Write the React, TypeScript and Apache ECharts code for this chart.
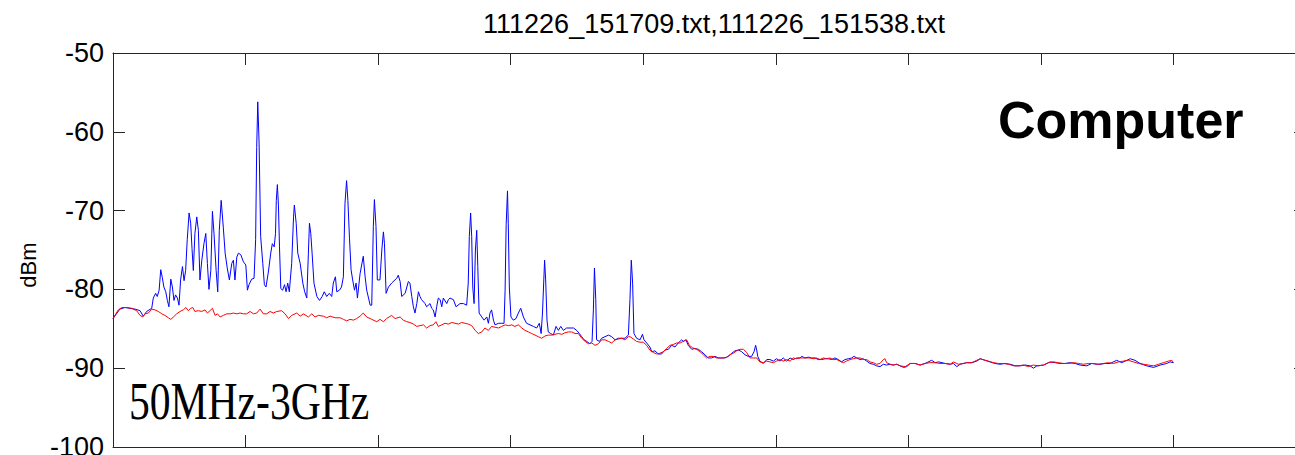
import React, { useEffect, useRef } from "react";
import * as echarts from "echarts";

const TITLE = "111226_151709.txt,111226_151538.txt";
const Y_LABEL = "dBm";
const LABEL_DEVICE = "Computer";
const LABEL_BAND = "50MHz-3GHz";

// x: sweep sample index (0..400), y: dBm
const blueTrace: [number, number][] = [
  [0,-83.7],[2.6,-82.5],[4.5,-82.3],[6.4,-82.4],[8.3,-82.5],[10.2,-82.7],[11.4,-83.4],[12.7,-82.8],[14.6,-82.4],[15.2,-81.1],
  [16.1,-80.5],[16.7,-80.9],[17.4,-80.1],[18.0,-77.5],[18.6,-78.5],[19.2,-79.7],[19.9,-80.3],[20.5,-81.4],[21.1,-82.2],[21.8,-78.7],
  [22.4,-79.7],[23.0,-81.4],[23.6,-80.7],[24.3,-81.1],[24.9,-82.0],[25.5,-78.8],[26.2,-77.1],[26.8,-78.9],[27.4,-77.6],[28.0,-73.7],
  [28.7,-70.3],[29.3,-71.6],[29.8,-74.8],[30.3,-77.6],[30.9,-72.9],[31.6,-70.8],[32.2,-72.5],[32.8,-78.8],[33.5,-76.3],[34.3,-74.2],
  [35.0,-72.9],[35.6,-76.7],[36.2,-80.0],[36.9,-77.6],[37.5,-70.1],[38.1,-72.9],[38.9,-77.6],[39.5,-80.3],[40.1,-72.5],[40.8,-68.7],
  [41.6,-72.1],[42.3,-75.4],[43.1,-77.3],[43.9,-78.8],[44.8,-76.7],[45.4,-76.3],[46.0,-78.8],[46.7,-75.9],[47.3,-75.4],[48.2,-75.6],
  [49.2,-76.5],[50.1,-76.9],[50.7,-80.1],[51.3,-79.4],[52.3,-78.7],[53.2,-78.6],[53.8,-73.7],[54.2,-62.0],[54.6,-56.2],[55.1,-61.3],
  [55.7,-73.3],[56.5,-76.7],[57.1,-79.4],[57.7,-79.7],[58.6,-77.8],[59.5,-75.4],[60.1,-74.2],[60.8,-74.6],[61.3,-72.9],[61.6,-68.7],
  [62.0,-66.7],[62.4,-69.3],[62.8,-74.6],[63.3,-79.9],[64.0,-80.1],[64.7,-79.4],[65.3,-80.3],[65.9,-79.2],[66.5,-80.3],[67.4,-76.7],
  [68.1,-70.8],[68.4,-69.3],[69.1,-71.6],[69.7,-75.4],[70.6,-76.7],[71.6,-79.2],[72.3,-80.3],[73.1,-81.1],[73.7,-75.4],[74.1,-71.6],
  [74.6,-72.9],[75.1,-75.4],[75.8,-79.2],[76.9,-80.9],[77.9,-81.4],[78.9,-80.9],[79.7,-80.3],[80.6,-80.9],[81.6,-80.5],[82.5,-80.9],
  [83.1,-79.2],[83.9,-78.4],[84.4,-80.3],[85.4,-80.1],[86.2,-79.7],[86.9,-78.4],[87.5,-69.1],[88.1,-66.2],[88.6,-68.7],[89.2,-73.5],
  [89.8,-77.5],[90.4,-78.8],[91.1,-80.1],[91.7,-79.2],[92.2,-81.1],[93.2,-78.0],[94.4,-75.8],[95.1,-78.4],[95.7,-80.1],[97.0,-82.0],
  [97.6,-82.0],[98.2,-72.0],[98.6,-68.6],[99.2,-72.0],[99.7,-78.8],[100.7,-78.8],[101.4,-75.0],[102.0,-72.7],[102.4,-74.2],[103.0,-80.5],
  [103.9,-79.7],[105.1,-79.2],[107.0,-78.6],[107.6,-78.2],[108.3,-79.0],[108.9,-80.9],[110.2,-80.5],[111.4,-79.0],[112.0,-79.2],[112.7,-80.9],
  [113.3,-82.2],[113.9,-83.0],[114.6,-81.8],[115.2,-80.3],[115.8,-80.9],[116.4,-81.3],[117.7,-81.8],[118.3,-82.2],[119.6,-81.8],[120.2,-82.4],
  [120.8,-82.6],[121.5,-83.5],[122.1,-82.2],[122.7,-81.1],[123.4,-81.3],[124.0,-82.2],[124.6,-81.1],[125.9,-81.8],[126.5,-81.3],[127.1,-81.1],
  [128.4,-81.3],[129.4,-82.2],[130.9,-81.8],[132.2,-81.8],[133.4,-82.0],[134.0,-79.2],[134.4,-73.3],[134.9,-70.3],[135.3,-73.3],[135.7,-79.7],
  [136.2,-81.8],[136.7,-75.0],[137.2,-72.5],[137.6,-77.1],[138.1,-83.0],[139.1,-83.5],[140.0,-83.9],[141.0,-83.5],[141.6,-84.3],[142.2,-83.0],
  [142.8,-82.6],[143.5,-83.9],[144.1,-84.5],[145.4,-84.3],[146.6,-84.3],[147.5,-84.3],[147.9,-80.1],[148.3,-71.8],[148.8,-67.5],[149.1,-71.6],
  [149.5,-79.7],[150.1,-83.5],[151.0,-83.9],[152.0,-83.7],[152.9,-83.0],[153.8,-82.4],[154.8,-83.5],[156.0,-84.3],[157.3,-84.5],[158.6,-84.7],
  [159.8,-84.9],[160.8,-84.3],[161.5,-85.6],[162.0,-83.0],[162.5,-78.8],[162.8,-76.3],[163.2,-78.8],[163.7,-83.9],[164.2,-85.4],[165.1,-85.6],
  [166.1,-85.8],[167.1,-84.7],[168.0,-85.2],[168.9,-84.7],[169.9,-85.2],[171.1,-84.9],[172.4,-84.9],[173.7,-84.9],[174.9,-85.2],[175.9,-85.6],
  [176.8,-86.0],[177.7,-86.4],[178.7,-86.6],[179.9,-86.9],[180.7,-86.6],[181.2,-82.6],[181.6,-77.3],[182.1,-81.3],[182.4,-86.4],[183.5,-86.6],
  [184.3,-86.2],[185.6,-86.0],[186.9,-85.8],[188.1,-86.0],[189.4,-86.4],[190.6,-86.2],[191.9,-86.2],[193.1,-86.2],[194.4,-85.8],[195.0,-81.3],
  [195.5,-76.3],[196.0,-79.2],[196.5,-85.6],[197.5,-86.2],[198.8,-86.4],[199.7,-85.7],[200.3,-86.4],[201.3,-86.8],[202.5,-87.3],[203.2,-87.9],
  [204.4,-87.8],[205.7,-88.2],[206.9,-88.2],[208.2,-87.7],[209.5,-87.6],[210.7,-87.1],[212.0,-87.3],[213.2,-86.8],[214.5,-86.4],[215.1,-86.6],
  [216.1,-86.4],[217.0,-87.1],[218.3,-87.6],[219.5,-87.5],[220.8,-87.6],[222.0,-87.9],[223.3,-88.3],[224.5,-88.7],[225.8,-88.7],[227.1,-88.5],
  [228.3,-88.7],[229.6,-88.7],[230.8,-88.7],[232.1,-88.5],[233.4,-88.1],[234.6,-87.8],[235.9,-87.7],[237.1,-87.9],[238.4,-88.3],[239.6,-88.5],
  [240.9,-88.5],[241.8,-87.9],[242.4,-87.1],[242.8,-87.7],[243.2,-88.5],[244.0,-89.1],[245.3,-89.4],[246.6,-88.9],[247.8,-88.9],[249.1,-89.1],
  [250.3,-88.8],[251.6,-89.1],[252.8,-88.7],[254.1,-89.1],[255.4,-88.7],[256.6,-88.9],[257.9,-88.7],[259.1,-88.7],[259.8,-88.5],[261.0,-88.7],
  [262.3,-88.6],[263.5,-88.7],[264.8,-88.7],[266.0,-88.9],[267.3,-88.9],[268.6,-88.8],[269.8,-88.8],[271.1,-88.9],[272.3,-88.7],[273.6,-88.9],
  [274.8,-89.2],[276.1,-88.9],[277.4,-88.8],[278.6,-88.7],[279.5,-88.5],[280.5,-88.7],[281.8,-88.9],[283.0,-88.8],[284.3,-89.1],[285.5,-89.4],
  [286.8,-89.5],[288.0,-89.7],[289.3,-89.8],[290.6,-89.5],[291.8,-89.6],[293.1,-89.5],[294.3,-89.6],[295.6,-89.5],[296.9,-89.7],[298.2,-89.9],
  [299.4,-89.8],[300.7,-89.4],[302.6,-89.4],[304.4,-89.6],[306.3,-89.4],[308.8,-89.0],[310.1,-89.3],[311.4,-89.2],[313.9,-89.4],[315.8,-89.5],
  [317.0,-89.4],[318.3,-89.8],[319.5,-89.5],[322.0,-89.3],[323.9,-89.3],[325.8,-89.1],[327.1,-88.8],[329.0,-89.0],[330.8,-89.2],[332.7,-89.4],
  [334.6,-89.5],[336.5,-89.4],[338.4,-89.5],[340.3,-89.7],[342.2,-89.7],[344.1,-89.6],[345.9,-89.7],[347.2,-90.0],[348.5,-89.7],[351.0,-89.6],
  [353.5,-89.2],[355.4,-89.3],[357.3,-89.4],[359.1,-89.4],[361.0,-89.3],[362.9,-89.4],[364.8,-89.6],[367.3,-89.7],[369.2,-89.4],[371.1,-89.5],
  [372.3,-89.5],[374.2,-89.4],[376.1,-89.4],[378.6,-89.0],[380.5,-89.3],[383.7,-88.8],[385.5,-89.0],[387.4,-89.4],[389.9,-89.7],[392.5,-89.9],
  [395.0,-89.6],[397.5,-89.4],[398.7,-89.2],[400,-89.3],
];

const redTrace: [number, number][] = [
  [0,-83.7],[2.0,-82.6],[3.3,-82.3],[5.2,-82.3],[7.0,-82.4],[8.9,-82.7],[10.2,-83.3],[11.2,-83.5],[12.1,-83.1],[13.3,-83.0],
  [14.6,-82.5],[15.8,-82.6],[17.1,-82.8],[18.4,-83.1],[19.6,-83.3],[20.9,-83.6],[21.8,-83.8],[22.8,-83.5],[24.0,-83.1],[25.3,-82.8],
  [26.5,-82.6],[27.5,-82.3],[28.4,-82.7],[29.3,-82.4],[30.1,-82.3],[30.9,-82.8],[32.2,-82.7],[33.5,-82.8],[34.7,-82.6],[35.6,-83.0],
  [36.6,-82.7],[37.5,-82.4],[38.5,-83.3],[39.4,-83.1],[40.4,-83.5],[41.6,-83.3],[42.9,-83.1],[44.2,-83.1],[45.4,-83.0],[46.7,-83.1],
  [47.9,-83.0],[49.2,-83.1],[50.4,-83.1],[51.7,-82.8],[53.0,-83.1],[54.2,-83.0],[55.5,-82.5],[56.7,-83.1],[58.0,-83.1],[59.2,-82.8],
  [60.5,-83.0],[61.8,-82.8],[63.6,-82.7],[64.9,-83.1],[66.2,-83.7],[67.4,-83.3],[69.3,-83.0],[70.6,-83.4],[71.8,-83.1],[73.7,-83.5],
  [75.0,-83.1],[76.2,-83.5],[77.5,-83.3],[79.4,-83.4],[80.6,-83.6],[81.9,-83.4],[83.8,-83.6],[85.7,-83.6],[86.9,-83.8],[88.2,-84.0],
  [89.4,-83.8],[90.7,-83.9],[91.9,-83.7],[93.2,-83.4],[94.4,-83.0],[95.7,-83.5],[97.6,-83.8],[99.5,-84.1],[100.7,-83.8],[102.0,-84.1],
  [103.2,-83.7],[105.1,-83.3],[106.4,-83.7],[108.3,-83.5],[109.5,-83.9],[110.8,-84.1],[112.0,-84.2],[113.3,-84.4],[114.6,-84.7],[115.8,-84.6],
  [117.1,-84.5],[118.3,-84.9],[119.6,-84.6],[120.8,-84.5],[121.8,-84.1],[122.7,-84.7],[124.0,-84.5],[125.2,-84.3],[126.5,-84.4],[127.8,-84.2],
  [129.0,-84.3],[130.3,-84.4],[131.5,-84.2],[132.8,-84.3],[134.0,-84.4],[135.3,-84.6],[136.6,-85.2],[137.8,-85.6],[139.1,-85.4],[140.3,-84.9],
  [141.6,-85.2],[142.8,-84.7],[144.1,-84.8],[145.4,-84.9],[146.6,-84.7],[147.9,-84.5],[149.1,-84.6],[150.4,-84.5],[151.6,-84.7],[152.9,-84.5],
  [154.2,-84.9],[155.4,-85.2],[156.7,-85.4],[157.9,-85.6],[159.2,-85.8],[160.4,-86.0],[161.7,-86.2],[163.0,-85.9],[164.2,-85.8],[165.5,-85.8],
  [166.7,-85.7],[168.0,-85.6],[169.3,-85.7],[170.5,-85.5],[171.8,-85.4],[173.0,-85.4],[174.3,-85.6],[175.5,-85.6],[176.8,-86.2],[178.1,-86.6],
  [179.3,-86.9],[180.6,-86.8],[181.8,-87.1],[183.1,-86.9],[184.3,-86.4],[185.6,-86.4],[186.9,-86.6],[188.1,-86.8],[189.4,-86.4],[190.6,-86.3],
  [191.9,-86.2],[193.1,-86.4],[194.4,-86.0],[195.0,-86.0],[196.3,-86.3],[197.5,-86.6],[198.8,-86.7],[200.0,-86.7],[201.3,-87.1],[202.5,-87.7],
  [203.8,-88.0],[205.1,-88.2],[206.3,-88.1],[207.6,-87.9],[208.8,-87.5],[210.1,-87.1],[211.3,-87.0],[212.6,-86.8],[213.9,-86.8],[215.1,-86.6],
  [216.4,-86.4],[217.4,-87.1],[218.6,-87.4],[220.1,-87.6],[221.4,-87.9],[222.7,-88.3],[223.9,-88.7],[225.2,-88.5],[226.4,-88.5],[227.7,-88.7],
  [229.0,-88.7],[230.2,-88.7],[231.5,-88.6],[232.7,-88.3],[234.0,-88.1],[235.2,-87.8],[236.5,-87.6],[237.8,-87.6],[239.0,-88.0],[240.3,-88.7],
  [241.5,-88.7],[242.8,-88.7],[244.0,-89.2],[245.3,-89.3],[246.6,-89.1],[247.8,-89.2],[249.1,-89.3],[250.3,-89.1],[251.6,-88.9],[252.8,-89.1],
  [254.1,-88.9],[255.4,-89.1],[256.6,-88.7],[257.9,-88.8],[259.1,-88.7],[260.4,-88.7],[261.6,-88.7],[262.9,-88.7],[264.2,-88.8],[265.4,-88.7],
  [266.7,-88.9],[267.9,-88.7],[269.2,-88.8],[270.4,-88.7],[271.7,-88.9],[273.0,-88.9],[274.2,-89.1],[275.5,-89.3],[276.7,-89.1],[278.0,-88.9],
  [279.2,-88.8],[280.5,-88.7],[281.8,-88.7],[283.0,-88.9],[284.3,-88.9],[285.5,-89.2],[286.8,-89.3],[288.0,-89.5],[289.3,-89.4],[290.6,-88.9],
  [291.2,-88.8],[291.8,-89.3],[293.1,-89.5],[294.3,-89.6],[295.6,-89.5],[296.9,-89.7],[298.8,-89.8],[300.7,-89.4],[302.6,-89.4],[304.4,-89.6],
  [306.3,-89.4],[308.2,-89.3],[310.1,-89.3],[312.0,-89.4],[313.9,-89.4],[315.8,-89.5],[317.0,-89.2],[318.9,-89.5],[320.8,-89.4],[322.0,-89.3],
  [323.9,-89.3],[325.8,-89.0],[327.1,-88.8],[329.0,-89.0],[330.2,-89.1],[332.1,-89.3],[334.0,-89.4],[335.9,-89.4],[337.8,-89.5],[339.7,-89.7],
  [341.5,-89.7],[343.4,-89.6],[345.3,-89.8],[347.2,-89.6],[349.1,-89.7],[351.0,-89.6],[352.9,-89.3],[354.7,-89.2],[356.6,-89.3],[358.5,-89.4],
  [360.4,-89.4],[362.3,-89.3],[364.2,-89.4],[366.1,-89.5],[367.9,-89.4],[369.8,-89.4],[371.7,-89.5],[373.6,-89.4],[375.5,-89.3],[377.4,-89.4],
  [379.3,-89.2],[381.1,-89.1],[383.0,-89.0],[384.9,-89.2],[386.8,-89.4],[388.7,-89.5],[390.6,-89.6],[392.5,-89.7],[394.4,-89.5],[396.2,-89.3],
  [398.1,-89.1],[399.4,-89.0],[400,-89.3],
];

const X_MIN = 0;
const X_MAX = 450;
const X_STEP = 50;
const Y_MIN = -100;
const Y_MAX = -50;
const Y_STEP = 10;

const AXIS_COLOR = "#262626";

export default function App() {
  const ref = useRef<HTMLDivElement>(null);

  useEffect(() => {
    if (!ref.current) return;
    const chart = echarts.init(ref.current, undefined, { renderer: "svg" });
    const tick = { show: true, inside: true, length: 12, lineStyle: { color: AXIS_COLOR, width: 1 } };
    const line = { show: true, onZero: false, lineStyle: { color: AXIS_COLOR, width: 1 } };
    const xBase = {
      type: "value" as const,
      min: X_MIN,
      max: X_MAX,
      interval: X_STEP,
      axisLine: line,
      axisTick: tick,
      axisLabel: { show: false },
      splitLine: { show: false },
    };
    const yBase = {
      type: "value" as const,
      min: Y_MIN,
      max: Y_MAX,
      interval: Y_STEP,
      axisLine: line,
      axisTick: tick,
      splitLine: { show: false },
    };
    chart.setOption({
      animation: false,
      title: {
        text: TITLE,
        left: 709,
        top: 5,
        textAlign: "center",
        textStyle: { fontFamily: "Liberation Sans", fontSize: 27, fontWeight: "normal", color: "#000" },
      },
      grid: { left: 113, top: 53, width: 1193, height: 394 },
      xAxis: [
        { ...xBase, position: "bottom" },
        { ...xBase, position: "top" },
      ],
      yAxis: [
        {
          ...yBase,
          position: "left",
          axisLabel: { fontFamily: "Liberation Sans", fontSize: 27, color: "#000", margin: 9 },
          name: Y_LABEL,
          nameLocation: "middle",
          nameGap: 74,
          nameRotate: 90,
          nameTextStyle: { fontFamily: "Liberation Sans", fontSize: 22, color: "#000", padding: [0, 30, 0, 0] },
        },
        { ...yBase, position: "right", axisLabel: { show: false } },
      ],
      series: [
        {
          name: "111226_151709.txt",
          type: "line",
          data: blueTrace,
          showSymbol: false,
          symbol: "none",
          lineStyle: { color: "#0000ff", width: 1 },
          itemStyle: { color: "#0000ff" },
          z: 2,
        },
        {
          name: "111226_151538.txt",
          type: "line",
          data: redTrace,
          showSymbol: false,
          symbol: "none",
          lineStyle: { color: "#ff0000", width: 1 },
          itemStyle: { color: "#ff0000" },
          z: 3,
        },
      ],
      graphic: [
        {
          type: "text",
          x: 998,
          y: 120,
          style: {
            text: LABEL_DEVICE,
            fontFamily: "Liberation Sans",
            fontSize: 52,
            fontWeight: "bold",
            fill: "#000",
            align: "left",
            verticalAlign: "middle",
          },
        },
        {
          type: "text",
          x: 129,
          y: 401,
          scaleX: 0.8,
          style: {
            text: LABEL_BAND,
            fontFamily: "Liberation Serif",
            fontSize: 52,
            fill: "#000",
            align: "left",
            verticalAlign: "middle",
          },
        },
      ],
    });
    return () => chart.dispose();
  }, []);

  return (
    <div
      ref={ref}
      style={{ position: "fixed", left: 0, top: 0, width: 1320, height: 470, background: "#fff" }}
    />
  );
}
